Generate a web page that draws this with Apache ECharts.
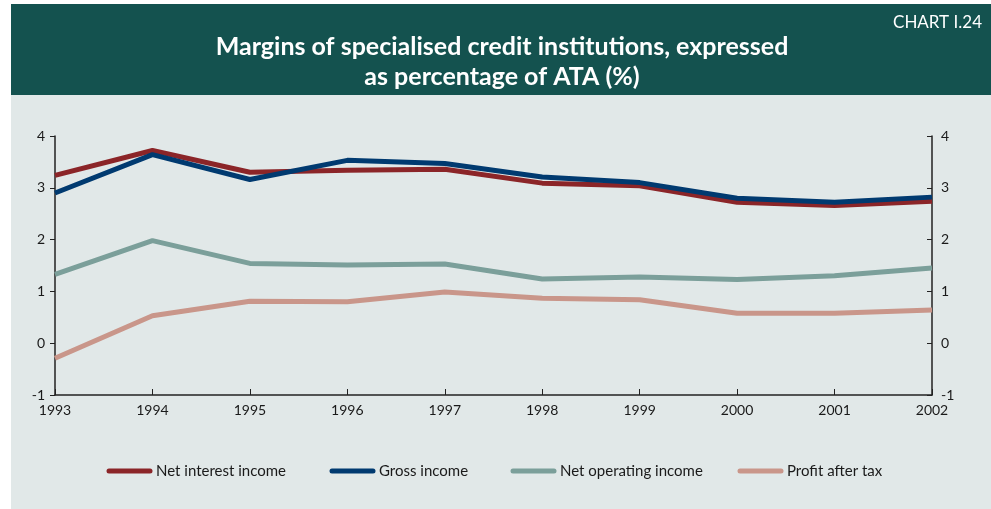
<!DOCTYPE html>
<html>
<head>
<meta charset="utf-8">
<script src="https://cdn.jsdelivr.net/npm/echarts@6/dist/echarts.min.js"></script>
<style>
  html, body { margin: 0; padding: 0; background: #ffffff; }
  #chart { width: 991px; height: 509px; }
</style>
</head>
<body>
<div id="chart"></div>
<script>
// Years on the horizontal axis
const years = ['1993', '1994', '1995', '1996', '1997', '1998', '1999', '2000', '2001', '2002'];

// Margins as % of average total assets
const netInterestIncome = [3.24, 3.72, 3.30, 3.34, 3.36, 3.09, 3.04, 2.72, 2.66, 2.74];
const grossIncome       = [2.90, 3.64, 3.16, 3.53, 3.47, 3.21, 3.10, 2.80, 2.72, 2.82];
const netOperatingIncome = [1.33, 1.98, 1.54, 1.51, 1.53, 1.24, 1.28, 1.23, 1.30, 1.45];
const profitAfterTax    = [-0.29, 0.53, 0.81, 0.80, 0.99, 0.87, 0.84, 0.58, 0.58, 0.64];

const seriesNames = ['Net interest income', 'Gross income', 'Net operating income', 'Profit after tax'];
const seriesData = [netInterestIncome, grossIncome, netOperatingIncome, profitAfterTax];
const seriesColors = ['#8b2528', '#003a70', '#7b9f9a', '#c9968a'];

const font = 'Lato, "Open Sans", sans-serif';
const axisColor = '#222222';
const textColor = '#1a1a1a';

const chart = echarts.init(document.getElementById('chart'), null, { renderer: 'canvas' });

const valueAxisBase = {
  type: 'value',
  min: -1,
  max: 4,
  interval: 1,
  splitLine: { show: false },
  axisLine: { show: true, lineStyle: { color: axisColor, width: 1.5 } },
  axisLabel: { color: textColor, fontFamily: font, fontSize: 14 }
};

// Legend drawn as graphic items: a thick swatch and a label per series
const legendX = [109, 332, 513, 740];
const legendGraphics = [];
seriesNames.forEach((name, i) => {
  legendGraphics.push({
    type: 'line',
    shape: { x1: legendX[i], y1: 471, x2: legendX[i] + 41, y2: 471 },
    style: { stroke: seriesColors[i], lineWidth: 5, lineCap: 'round' }
  });
  legendGraphics.push({
    type: 'text',
    x: legendX[i] + 47,
    y: 471,
    style: {
      text: name, fill: textColor, font: '15px ' + font,
      verticalAlign: 'middle'
    }
  });
});

chart.setOption({
  animation: false,
  backgroundColor: '#ffffff',
  graphic: [
    { type: 'rect', z: -10, shape: { x: 11, y: 4, width: 980, height: 505 }, style: { fill: '#e1e8e8' } },
    { type: 'rect', z: -9, shape: { x: 11, y: 4, width: 980, height: 91 }, style: { fill: '#14524f' } },
    {
      type: 'text', x: 982, y: 23,
      style: { text: 'CHART I.24', fill: '#ffffff', font: '17px ' + font, align: 'right', verticalAlign: 'middle' }
    },
    {
      type: 'text', x: 502, y: 47,
      style: { text: 'Margins of specialised credit institutions, expressed', fill: '#ffffff', font: 'bold 25px ' + font, align: 'center', verticalAlign: 'middle' }
    },
    {
      type: 'text', x: 502, y: 77,
      style: { text: 'as percentage of ATA (%)', fill: '#ffffff', font: 'bold 25px ' + font, align: 'center', verticalAlign: 'middle' }
    }
  ].concat(legendGraphics),
  grid: { left: 55, right: 59, top: 136, bottom: 114, containLabel: false },
  xAxis: {
    type: 'category',
    data: years,
    boundaryGap: false,
    axisLine: { show: true, onZero: false, lineStyle: { color: axisColor, width: 1.5 } },
    axisTick: { show: true, inside: true, alignWithLabel: true, length: 6, lineStyle: { color: axisColor } },
    axisLabel: { color: textColor, fontFamily: font, fontSize: 14, margin: 8, showMinLabel: true, showMaxLabel: true, interval: 0 }
  },
  yAxis: [
    Object.assign({}, valueAxisBase, {
      position: 'left',
      axisTick: { show: true, inside: false, length: 5, lineStyle: { color: axisColor } },
      axisLabel: Object.assign({}, valueAxisBase.axisLabel, { margin: 10 })
    }),
    Object.assign({}, valueAxisBase, {
      position: 'right',
      axisTick: { show: true, inside: true, length: 5, lineStyle: { color: axisColor } },
      axisLabel: Object.assign({}, valueAxisBase.axisLabel, { margin: 9 })
    })
  ],
  series: seriesNames.map((name, i) => ({
    name: name,
    type: 'line',
    yAxisIndex: 0,
    data: seriesData[i],
    symbol: 'none',
    lineStyle: { color: seriesColors[i], width: 5, join: 'round' },
    z: 10 - (i === 1 ? 0 : 1)
  }))
});
</script>
</body>
</html>
